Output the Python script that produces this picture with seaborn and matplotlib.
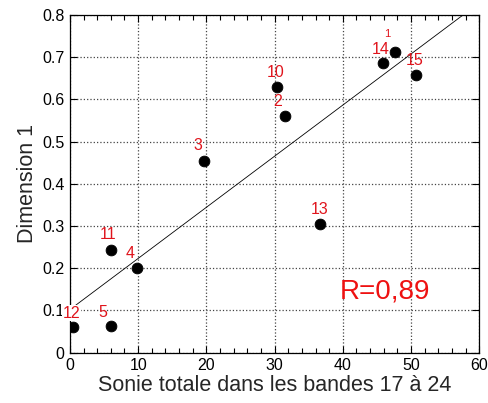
import numpy as np
import pandas as pd
import matplotlib
matplotlib.use('Agg')
import matplotlib.pyplot as plt
from matplotlib.ticker import MultipleLocator, FuncFormatter
import seaborn as sns

# values
labels = ['1', '2', '3', '4', '5', '10', '11', '12', '13', '14', '15']
sonie = [47.7, 31.5, 19.6, 9.8, 6.0, 30.4, 6.0, 0.5, 36.7, 45.9, 50.8]
dimension1 = [0.711, 0.561, 0.454, 0.201, 0.062, 0.630, 0.244, 0.060, 0.305, 0.686, 0.658]
r_text = 'R=0,89'

df = pd.DataFrame({'label': labels, 'x': sonie, 'y': dimension1})

sns.set_style('white')
plt.rcParams['font.family'] = ['Liberation Sans', 'DejaVu Sans']

fig = plt.figure(figsize=(4.89, 4.03), dpi=100)
ax = fig.add_axes([0.143, 0.125, 0.837, 0.838])
ax.set_xlim(0, 60)
ax.set_ylim(0, 0.8)

sns.regplot(data=df, x='x', y='y', ax=ax, scatter=False, ci=None, truncate=False,
            line_kws={'color': 'black', 'lw': 0.6})
sns.scatterplot(data=df, x='x', y='y', ax=ax, color='black', s=60, edgecolor='black', zorder=3)
ax.set_xlim(0, 60)
ax.set_ylim(0, 0.8)

# label offsets (pixels) from each point
offsets = {'1': (-8, 18), '2': (-7, 14), '3': (-6, 15), '4': (-7, 14), '5': (-8, 14),
           '10': (-2, 14), '11': (-3, 15), '12': (-2, 14), '13': (-1, 14), '14': (-2, 14), '15': (-2, 14)}
red = '#e0141c'
for lab, x, y in zip(labels, sonie, dimension1):
    dx, dy = offsets[lab]
    kw = {}
    if lab == '12':
        kw['bbox'] = dict(facecolor='white', edgecolor='none', pad=0.5)
    ax.annotate(lab, (x, y), xytext=(dx * 0.72, dy * 0.72), textcoords='offset points',
                ha='center', va='center', color=red, fontsize=8 if lab == '1' else 11.5,
                annotation_clip=False, zorder=4, **kw)

ax.text(0.66, 0.18, r_text, transform=ax.transAxes, color='#ee1111', fontsize=20,
        ha='left', va='center')

ax.xaxis.set_major_locator(MultipleLocator(10))
ax.xaxis.set_minor_locator(MultipleLocator(2))
ax.yaxis.set_major_locator(MultipleLocator(0.1))
ax.yaxis.set_major_formatter(FuncFormatter(lambda v, p: '0' if abs(v) < 1e-9 else f'{v:.1f}'))
ax.grid(True, which='major', linestyle=':', color='#444444', lw=0.9)
ax.tick_params(which='both', direction='in', top=True, right=True, bottom=True, left=True,
               labelsize=11.5, colors='black', pad=4)
ax.tick_params(which='major', length=5, width=0.8)
ax.tick_params(which='minor', length=3.5, width=0.8)
for sp in ax.spines.values():
    sp.set_color('black')
    sp.set_linewidth(0.9)

ax.set_xlabel('Sonie totale dans les bandes 17 à 24', fontsize=15.5, labelpad=1)
ax.set_ylabel('Dimension 1', fontsize=15.5, labelpad=3)

fig.savefig('out.png', dpi=100)
